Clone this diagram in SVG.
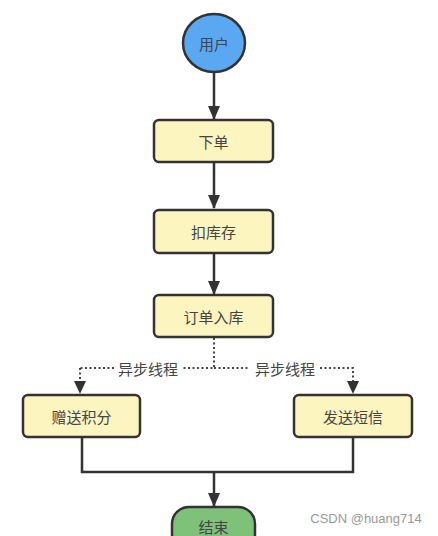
<svg xmlns="http://www.w3.org/2000/svg" width="438" height="536" viewBox="0 0 438 536">
<defs>
<style>
.box{fill:#fcf5c0;stroke:#333;stroke-width:2.5}
.lbl{font-family:"Noto Sans CJK SC","Noto Sans",sans-serif;font-size:15px;fill:#444;text-anchor:middle;dominant-baseline:central}
.ln{fill:none;stroke:#333;stroke-width:2.5}
.dot{fill:none;stroke:#444;stroke-width:2;stroke-dasharray:2 2.5}
</style>
<marker id="ah" markerUnits="userSpaceOnUse" markerWidth="14" markerHeight="12" refX="13" refY="6" orient="auto" viewBox="0 0 14 12">
<path d="M0,0 L14,6 L0,12 Z" fill="#333"/>
</marker>
</defs>
<rect width="438" height="536" fill="#fff"/>
<g id="connectors">
<line class="ln" x1="214" y1="72" x2="214" y2="119" marker-end="url(#ah)"/>
<line class="ln" x1="214" y1="162" x2="214" y2="208" marker-end="url(#ah)"/>
<line class="ln" x1="214" y1="253" x2="214" y2="294" marker-end="url(#ah)"/>
<polyline class="dot" points="214,338 214,368 183,368"/>
<line class="dot" x1="114" y1="368" x2="80" y2="368"/>
<line class="dot" x1="80" y1="368" x2="80" y2="382"/>
<path d="M74,381 L86,381 L80,394 Z" fill="#333"/>
<line class="dot" x1="214" y1="368" x2="250" y2="368"/>
<polyline class="dot" points="320,368 353,368 353,382"/>
<path d="M347,381 L359,381 L353,394 Z" fill="#333"/>
<polyline class="ln" points="82,437 82,472 353,472 353,437"/>
<line class="ln" x1="214" y1="472" x2="214" y2="506" marker-end="url(#ah)"/>
<text class="lbl" x="148" y="368">异步线程</text>
<text class="lbl" x="285" y="368">异步线程</text>
</g>
<g id="user">
<ellipse cx="214" cy="43" rx="31" ry="29" fill="#5aa8f2" stroke="#333" stroke-width="2.5"/>
<text class="lbl" x="214" y="43">用户</text>
</g>
<g id="order">
<rect class="box" x="154" y="120" width="119" height="42" rx="5"/>
<text class="lbl" x="213.5" y="141">下单</text>
</g>
<g id="stock">
<rect class="box" x="154" y="210" width="119" height="43" rx="5"/>
<text class="lbl" x="213.5" y="231.5">扣库存</text>
</g>
<g id="save">
<rect class="box" x="154" y="295" width="119" height="42" rx="5"/>
<text class="lbl" x="213.5" y="316">订单入库</text>
</g>
<g id="points">
<rect class="box" x="23" y="395" width="117" height="42" rx="5"/>
<text class="lbl" x="81.5" y="416">赠送积分</text>
</g>
<g id="sms">
<rect class="box" x="294" y="395" width="118" height="42" rx="5"/>
<text class="lbl" x="353" y="416">发送短信</text>
</g>
<g id="end">
<rect x="172" y="507" width="83" height="44" rx="17" fill="#7ec27a" stroke="#333" stroke-width="2.5"/>
<text class="lbl" x="213.5" y="526">结束</text>
</g>
<text x="366" y="523" font-family="Liberation Sans,Arial,sans-serif" font-size="13" fill="#999" text-anchor="middle">CSDN @huang714</text>
</svg>
